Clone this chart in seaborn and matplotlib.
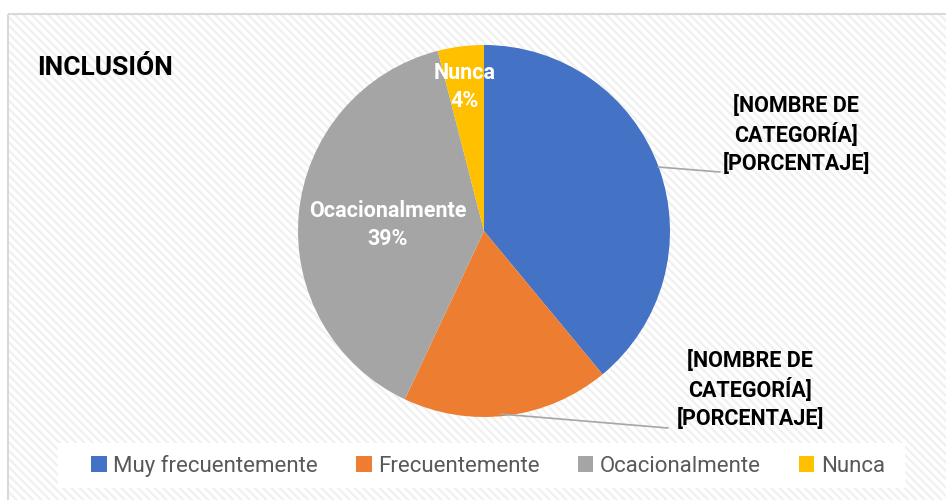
import matplotlib
matplotlib.use("Agg")
import matplotlib.pyplot as plt
from matplotlib.patches import Rectangle
import seaborn as sns

categories = ["Muy frecuentemente", "Frecuentemente", "Ocacionalmente", "Nunca"]
values = [39, 18, 39, 4]
colors = ["#4472C4", "#ED7D31", "#A5A5A5", "#FFC000"]
title = "INCLUSIÓN"
placeholder = "[NOMBRE DE\nCATEGORÍA]\n[PORCENTAJE]"

sns.set_theme(style="white")
plt.rcParams['font.family'] = ['Liberation Sans Narrow', 'Roboto', 'DejaVu Sans']
plt.rcParams['hatch.linewidth'] = 1.6

W, H = 946, 500
fig = plt.figure(figsize=(W / 100, H / 100), dpi=100)
fig.patch.set_facecolor("white")

def fx(px):
    return px / W

def fy(py):
    return 1 - py / H

# background axes in pixel coordinates (y down)
bgax = fig.add_axes([0, 0, 1, 1], zorder=-5)
bgax.set_xlim(0, W)
bgax.set_ylim(H, 0)
bgax.axis("off")
bgax.add_patch(Rectangle((8, 14), W, H, facecolor="white", edgecolor="#F0F0F0",
                         hatch="\\\\\\\\", lw=0))
bgax.add_patch(Rectangle((8, 14), W, H, facecolor="none", edgecolor="#D9D9D9", lw=1.5))
bgax.add_patch(Rectangle((58, 443), 905 - 58, 45, facecolor="white", edgecolor="none"))

# pie axes: center (484,231), radius 186
cx, cy, r = 484, 231, 186
ax = fig.add_axes([fx(cx - r), fy(cy + r), fx(2 * r), (2 * r) / H], zorder=1)
ax.set_facecolor((1, 1, 1, 0))
wedges, _ = ax.pie(values, colors=colors, startangle=90, counterclock=False,
                   wedgeprops=dict(linewidth=0))
ax.set_xlim(-1, 1)
ax.set_ylim(-1, 1)
ax.set_aspect("equal")
ax.axis("off")

def to_data(px, py):
    return ((px - cx) / r, (cy - py) / r)

LS = 1.35
FS = 15.5

# inside labels (white bold)
x, y = to_data(465, 87)
ax.text(x, y, f"{categories[3]}\n{values[3]}%", color="white", fontsize=FS,
        fontweight="bold", ha="center", va="center", linespacing=LS)
x, y = to_data(388, 225)
ax.text(x, y, f"{categories[2]}\n{values[2]}%", color="white", fontsize=FS,
        fontweight="bold", ha="center", va="center", linespacing=LS)

# outside placeholder labels with leader lines
x0, y0 = to_data(658, 167)
x1, y1 = to_data(720, 172)
ax.plot([x0, x1], [y0, y1], color="#A6A6A6", lw=1.2, clip_on=False)
x, y = to_data(796, 135)
ax.text(x, y, placeholder, color="black", fontsize=FS, fontweight="bold",
        ha="center", va="center", linespacing=LS)

x0, y0 = to_data(500, 414)
x1, y1 = to_data(668, 428)
ax.plot([x0, x1], [y0, y1], color="#A6A6A6", lw=1.2, clip_on=False)
x, y = to_data(750, 390)
ax.text(x, y, placeholder, color="black", fontsize=FS, fontweight="bold",
        ha="center", va="center", linespacing=LS)

# title
fig.text(fx(37), fy(68), title, fontsize=19, fontweight="bold", color="black",
         ha="left", va="center")

leg = fig.legend(wedges, categories, loc="center", bbox_to_anchor=(fx(488), fy(466)),
                 ncol=4, frameon=False, fontsize=16, handlelength=0.7, handleheight=0.7,
                 handletextpad=0.3, columnspacing=1.7, labelcolor="#595959")

fig.savefig("out.png", dpi=100, facecolor="white")
